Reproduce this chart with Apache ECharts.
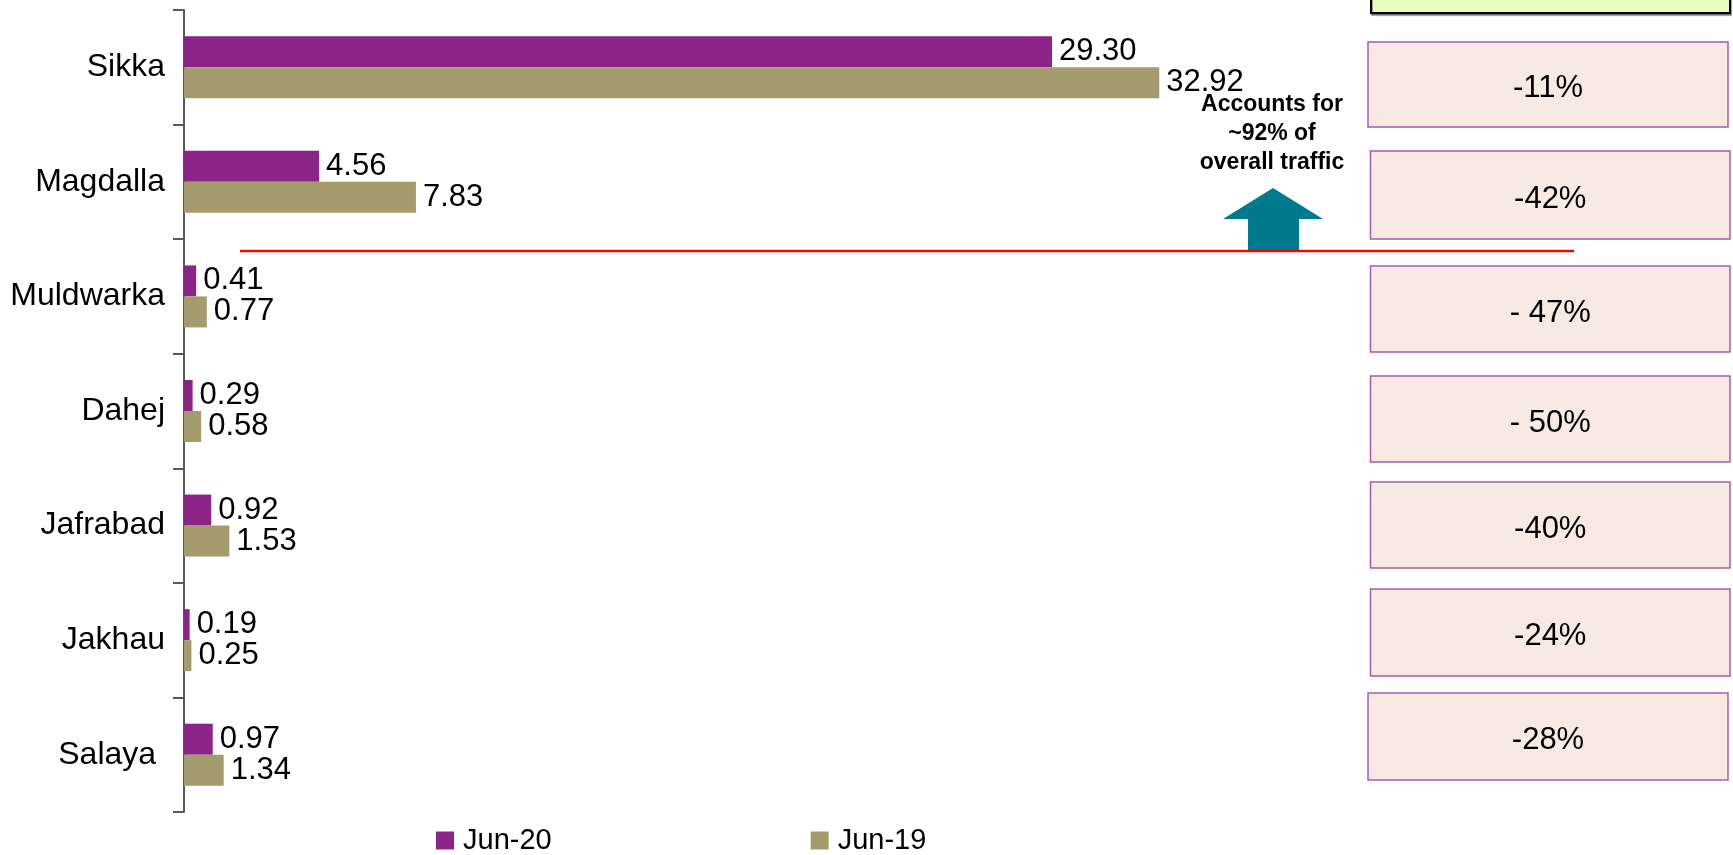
<!DOCTYPE html>
<html><head><meta charset="utf-8">
<script src="https://cdn.jsdelivr.net/npm/echarts@6/dist/echarts.min.js"></script>
<style>html,body{margin:0;padding:0;background:#fff;}#c{width:1733px;height:855px;}</style>
</head><body><div id="c"></div>
<script>
// ---- data ----
const categories = ['Sikka', 'Magdalla', 'Muldwarka', 'Dahej', 'Jafrabad', 'Jakhau', 'Salaya '];
const jun20 = [29.30, 4.56, 0.41, 0.29, 0.92, 0.19, 0.97];
const jun19 = [32.92, 7.83, 0.77, 0.58, 1.53, 0.25, 1.34];
const seriesNames = ['Jun-20', 'Jun-19'];
const changeLabels = ['-11%', '-42%', '- 47%', '- 50%', '-40%', '-24%', '-28%'];
const noteLines = ['Accounts for', '~92% of', 'overall traffic'];

// ---- layout / style ----
const FONT = '"Liberation Sans", Arial, sans-serif';
const PURPLE = '#8C2488';
const TAN = '#A59C6E';
const boxRects = [
  [1368, 42, 360, 85],
  [1370.5, 151, 359.5, 88],
  [1370.5, 266, 359.5, 86],
  [1370.5, 376, 359.5, 86],
  [1370.5, 482, 359.5, 86],
  [1370.5, 589, 359.5, 87],
  [1368, 693, 360, 87]
];

const graphics = [];
// top green box (cut off)
graphics.push({
  type: 'rect', shape: { x: 1371, y: -20, width: 359, height: 33 },
  style: { fill: '#E9FCBE', stroke: '#000', lineWidth: 2, shadowColor: 'rgba(0,0,0,0.35)', shadowOffsetX: 1, shadowOffsetY: 2, shadowBlur: 1 }
});
boxRects.forEach((r, i) => {
  graphics.push({
    type: 'rect', shape: { x: r[0], y: r[1], width: r[2], height: r[3] },
    style: { fill: '#F8EAE3', stroke: '#A65BAA', lineWidth: 1.5 }
  });
  graphics.push({
    type: 'text', x: r[0] + r[2] / 2, y: r[1] + r[3] / 2 + 4,
    style: { text: changeLabels[i], fill: '#000', font: '31px ' + FONT, align: 'center', verticalAlign: 'middle' }
  });
});
// arrow
graphics.push({
  type: 'polygon',
  shape: { points: [[1273, 188], [1323, 219], [1299, 219], [1299, 251], [1248, 251], [1248, 219], [1223, 219]] },
  style: { fill: '#027A8E' }
});
// red line
graphics.push({
  type: 'line', shape: { x1: 240, y1: 251, x2: 1574, y2: 251 },
  style: { stroke: '#FF0000', lineWidth: 2.5 }
});
// note text
graphics.push({
  type: 'text', x: 1272, y: 134,
  style: { text: noteLines.join('\n'), fill: '#000', font: 'bold 23px ' + FONT, lineHeight: 29, align: 'center', verticalAlign: 'middle' }
});

const chart = echarts.init(document.getElementById('c'), null, { renderer: 'canvas' });
chart.setOption({
  animation: false,
  backgroundColor: '#fff',
  grid: { left: 184, top: 10, width: 1185, height: 802, containLabel: false },
  legend: {
    data: seriesNames,
    left: 436, top: 826, padding: 0,
    icon: 'rect', itemWidth: 18, itemHeight: 18, itemGap: 259,
    textStyle: { fontFamily: FONT, fontSize: 29, color: '#000', lineHeight: 28, padding: [0, 0, 0, 4] }
  },
  xAxis: {
    type: 'value', min: 0, max: 40, show: false,
    splitLine: { show: false }
  },
  yAxis: {
    type: 'category', data: categories, inverse: true,
    axisLine: { show: true, lineStyle: { color: '#595959', width: 2 } },
    axisTick: { show: true, length: 11, lineStyle: { color: '#595959', width: 2 } },
    axisLabel: { margin: 19, fontFamily: FONT, fontSize: 32, color: '#000' },
    splitLine: { show: false }
  },
  series: [
    {
      name: seriesNames[0], type: 'bar', data: jun20, barWidth: 31, barGap: '0%',
      itemStyle: { color: PURPLE },
      label: { show: true, position: 'right', distance: 7, fontFamily: FONT, fontSize: 31, color: '#000', formatter: p => p.value.toFixed(2) }
    },
    {
      name: seriesNames[1], type: 'bar', data: jun19, barWidth: 31, barGap: '0%',
      itemStyle: { color: TAN },
      label: { show: true, position: 'right', distance: 7, fontFamily: FONT, fontSize: 31, color: '#000', formatter: p => p.value.toFixed(2) }
    }
  ],
  graphic: graphics
});
</script>
</body></html>
